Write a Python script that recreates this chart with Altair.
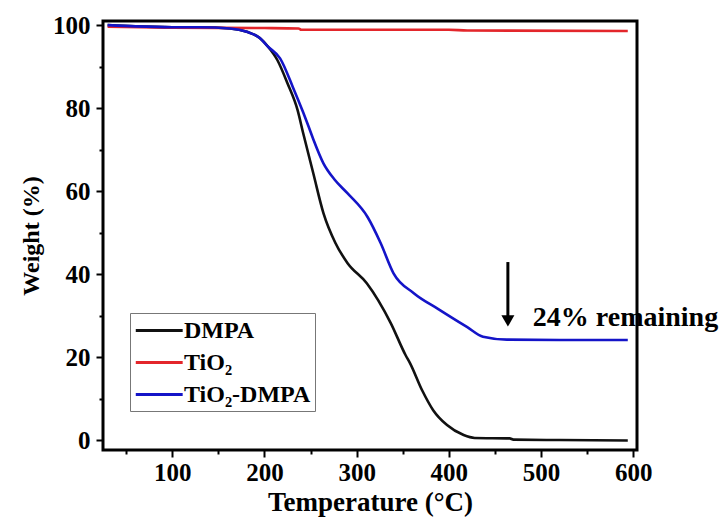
import altair as alt
import pandas as pd

series_names = ["DMPA", "TiO₂", "TiO₂-DMPA"]
series_colors = ["#111111", "#e3262b", "#1414c8"]

dmpa_x = [30, 60, 100, 130, 163, 181, 195, 204, 214, 225, 236, 242, 253, 264, 277, 290, 311, 337, 353, 358, 371, 383, 398, 416, 428, 466, 470, 520, 594]
dmpa_y = [100, 99.7, 99.5, 99.5, 99.2, 98.4, 96.9, 94.8, 91.6, 86, 79.5, 74, 64.3, 54.7, 47.5, 42.7, 37.8, 28.2, 20.5, 18.5, 12, 7.2, 3.6, 1.2, 0.5, 0.4, 0.1, 0.0, -0.1]

red_x = [30, 100, 200, 237, 240, 400, 420, 594]
red_y = [99.6, 99.4, 99.3, 99.2, 98.9, 98.9, 98.7, 98.6]

blue_x = [30, 60, 100, 130, 163, 181, 195, 204, 217, 231, 242, 248, 253, 264, 276, 290, 312, 326, 340, 362, 389, 420, 437, 463, 520, 594]
blue_y = [100, 99.7, 99.5, 99.5, 99.2, 98.4, 96.9, 94.8, 92, 85, 79, 75.5, 72.5, 66.7, 62.8, 59.5, 53.7, 47.5, 40.2, 35.4, 31.5, 27.2, 24.9, 24.2, 24.1, 24.1]

arrow_x = [464]
arrow_top = [42.9]
arrow_bottom = [29.5]
head_y = [28.7]
note_x = [491]
note_y = [29.4]
note_text = ["24% remaining"]

rows = []
for name, xs, ys in [(series_names[0], dmpa_x, dmpa_y),
                     (series_names[1], red_x, red_y),
                     (series_names[2], blue_x, blue_y)]:
    for a, b in zip(xs, ys):
        rows.append({"series": name, "temp": a, "weight": b})
df = pd.DataFrame(rows)

FONT = "Liberation Serif"

x_axis = alt.Axis(
    values=list(range(50, 601, 50)),
    title="Temperature (°C)",
    labelExpr="datum.value % 100 === 0 ? datum.label : ''",
    tickSize={"condition": {"test": "datum.value % 100 === 0", "value": 7}, "value": 4},
    tickWidth=2, tickColor="black", domain=False, grid=False,
    labelFont=FONT, labelFontWeight="bold", labelFontSize=25, labelColor="black",
    labelPadding=3,
    titleFont=FONT, titleFontWeight="bold", titleFontSize=27, titleColor="black",
    titlePadding=4,
)
y_axis = alt.Axis(
    values=list(range(0, 101, 10)),
    title="Weight (%)",
    labelExpr="datum.value % 20 === 0 ? datum.label : ''",
    tickSize={"condition": {"test": "datum.value % 20 === 0", "value": 7}, "value": 4},
    tickWidth=2, tickColor="black", domain=False, grid=False,
    labelFont=FONT, labelFontWeight="bold", labelFontSize=25, labelColor="black",
    labelPadding=6,
    titleFont=FONT, titleFontWeight="bold", titleFontSize=24, titleColor="black",
    titlePadding=9,
)

xs = alt.Scale(domain=[25, 604], nice=False, zero=False)
ys = alt.Scale(domain=[-2.4, 101], nice=False, zero=False)

lines = alt.Chart(df).mark_line(strokeWidth=2.6, clip=True, interpolate="monotone").encode(
    x=alt.X("temp:Q", scale=xs, axis=x_axis),
    y=alt.Y("weight:Q", scale=ys, axis=y_axis),
    color=alt.Color(
        "series:N",
        sort=series_names,
        scale=alt.Scale(domain=series_names, range=series_colors),
        legend=alt.Legend(
            orient="none", legendX=27, legendY=292, title=None,
            symbolType="M-1,0H3", symbolSize=550, symbolStrokeWidth=3,
            labelFont=FONT, labelFontWeight="bold", labelFontSize=24,
            labelColor="black", labelLimit=0, labelOffset=23,
            strokeColor="#777777", fillColor="white", padding=4,
            rowPadding=6, cornerRadius=0,
        ),
    ),
)

arrow_df = pd.DataFrame({"temp": arrow_x, "weight": arrow_top, "weight2": arrow_bottom})
rule = alt.Chart(arrow_df).mark_rule(strokeWidth=3, color="black").encode(
    x="temp:Q", y="weight:Q", y2="weight2:Q"
)
head_df = pd.DataFrame({"temp": arrow_x, "weight": head_y})
head = alt.Chart(head_df).mark_point(
    shape="triangle-down", filled=True, size=170, color="black", opacity=1
).encode(x="temp:Q", y="weight:Q")

note_df = pd.DataFrame({"temp": note_x, "weight": note_y, "label": note_text})
note = alt.Chart(note_df).mark_text(
    align="left", baseline="middle", font=FONT, fontWeight="bold", fontSize=28, color="black"
).encode(x="temp:Q", y="weight:Q", text="label:N")

chart = alt.layer(lines, rule, head, note).properties(
    width=534, height=429,
    autosize=alt.AutoSizeParams(type="none"),
    padding={"left": 95, "top": 13, "right": 82, "bottom": 67},
    background="white",
).configure_view(stroke="black", strokeWidth=3)

chart.save("out.html", embed_options={"renderer": "svg", "actions": False})
